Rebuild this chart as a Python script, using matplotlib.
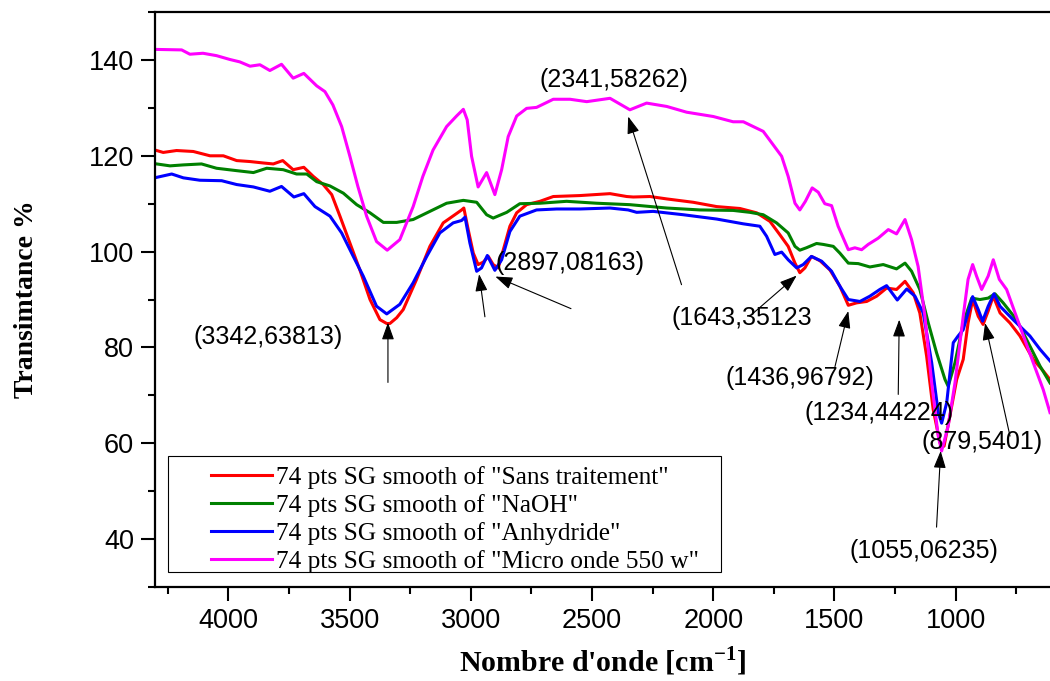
import matplotlib
matplotlib.use("Agg")
import matplotlib.pyplot as plt
from matplotlib.ticker import MultipleLocator
from matplotlib.patches import Rectangle
from matplotlib.transforms import IdentityTransform

plt.rcParams['font.family'] = ['Liberation Sans', 'DejaVu Sans']
plt.rcParams['mathtext.fontset'] = 'custom'
plt.rcParams['mathtext.rm'] = 'Liberation Serif'
plt.rcParams['mathtext.bf'] = 'Liberation Serif:bold'

# --- data (wavenumber cm-1, transmittance %) ---
sans_x = [4296, 4269, 4214, 4145, 4076, 4021, 3966, 3911, 3856, 3815, 3776, 3733, 3689, 3650,
          3609, 3574, 3540, 3499, 3458, 3416, 3375, 3347, 3334, 3306, 3279, 3224, 3169, 3114,
          3066, 3038, 3029, 3011, 2990, 2970, 2949, 2928, 2908, 2887, 2866, 2839, 2811, 2770,
          2715, 2660, 2550, 2426, 2357, 2330, 2261, 2192, 2083, 1986, 1890, 1821, 1766, 1725,
          1691, 1663, 1643, 1622, 1595, 1560, 1519, 1478, 1443, 1409, 1367, 1326, 1285, 1244,
          1209, 1175, 1148, 1120, 1093, 1065, 1048, 1024, 996, 969, 949, 930, 907, 887, 866,
          845, 817, 776, 735, 680, 639, 611]
sans_y = [121.1, 120.7, 121.1, 120.9, 120.0, 120.0, 119.0, 118.8, 118.5, 118.3, 119.0, 117.1,
          117.6, 115.7, 114.0, 111.9, 107.4, 101.8, 96.2, 90.0, 85.8, 85.0, 85.0, 86.2, 87.9,
          94.2, 101.1, 106.0, 107.7, 108.7, 109.1, 104.6, 99.7, 97.3, 97.8, 99.0, 97.3, 96.6,
          100.4, 105.3, 108.1, 109.8, 110.5, 111.5, 111.7, 112.1, 111.5, 111.4, 111.5, 111.0,
          110.3, 109.4, 109.0, 108.1, 106.3, 103.5, 101.1, 97.6, 95.6, 96.6, 99.0, 98.1, 96.2,
          92.8, 88.8, 89.3, 89.6, 90.7, 92.4, 92.1, 93.8, 91.4, 87.2, 78.2, 67.1, 60.1, 59.4,
          65.7, 73.3, 77.5, 85.1, 90.0, 86.5, 84.8, 87.6, 90.7, 87.2, 85.1, 82.4, 77.5, 75.1,
          73.3]

naoh_x = [4296, 4241, 4186, 4111, 4049, 3966, 3897, 3842, 3774, 3719, 3677, 3636, 3581, 3526,
          3471, 3416, 3361, 3306, 3238, 3169, 3100, 3031, 2976, 2935, 2908, 2852, 2798, 2715,
          2605, 2481, 2344, 2192, 2055, 1918, 1849, 1794, 1739, 1691, 1663, 1643, 1616, 1574,
          1546, 1505, 1478, 1443, 1402, 1354, 1299, 1244, 1209, 1182, 1148, 1113, 1079, 1044,
          1031, 1003, 969, 934, 900, 866, 838, 804, 749, 694, 652, 611]
naoh_y = [118.3, 117.9, 118.1, 118.3, 117.4, 116.9, 116.5, 117.4, 117.1, 116.2, 116.2, 114.6,
          113.7, 112.2, 109.8, 108.1, 106.1, 106.1, 106.7, 108.4, 110.1, 110.7, 110.3, 107.7,
          107.0, 108.2, 110.0, 110.1, 110.5, 110.1, 109.8, 109.1, 108.7, 108.6, 108.2, 107.7,
          106.0, 103.9, 101.1, 100.3, 100.8, 101.7, 101.5, 101.1, 99.7, 97.6, 97.5, 96.8, 97.3,
          96.4, 97.6, 95.9, 92.1, 85.1, 78.9, 73.3, 71.9, 76.8, 85.1, 90.3, 90.0, 90.3, 91.2,
          89.3, 85.8, 80.3, 76.1, 72.6]

anh_x = [4296, 4234, 4186, 4118, 4028, 3966, 3897, 3829, 3781, 3730, 3689, 3643, 3581, 3533,
         3485, 3444, 3389, 3347, 3293, 3238, 3182, 3128, 3073, 3038, 3024, 3004, 2976, 2956,
         2932, 2901, 2873, 2839, 2798, 2729, 2646, 2550, 2426, 2351, 2316, 2248, 2124, 1986,
         1876, 1808, 1780, 1746, 1718, 1691, 1656, 1629, 1595, 1553, 1512, 1478, 1443, 1395,
         1354, 1313, 1285, 1241, 1202, 1168, 1134, 1099, 1072, 1058, 1037, 1010, 990, 969, 949,
         930, 907, 889, 866, 842, 817, 763, 694, 652, 611]
anh_y = [115.5, 116.2, 115.4, 114.9, 114.8, 114.0, 113.5, 112.6, 113.6, 111.4, 112.1, 109.4,
         107.4, 103.9, 99.0, 94.9, 88.6, 87.0, 89.0, 93.5, 99.0, 103.9, 106.0, 106.5, 107.2,
         101.8, 95.9, 96.6, 99.2, 96.1, 98.3, 104.2, 107.4, 108.7, 108.9, 108.9, 109.1, 108.7,
         108.2, 108.4, 107.7, 106.8, 105.8, 105.3, 103.2, 99.4, 99.9, 98.3, 96.6, 97.3, 99.0,
         98.0, 95.9, 92.8, 90.0, 89.6, 90.7, 92.1, 92.9, 89.9, 92.2, 90.7, 87.2, 76.8, 66.4,
         64.2, 68.5, 81.0, 82.4, 83.7, 87.2, 90.6, 87.9, 85.5, 88.6, 91.2, 88.6, 85.8, 82.4,
         79.6, 77.2]

micro_x = [4296, 4193, 4159, 4105, 4049, 3994, 3953, 3911, 3870, 3829, 3781, 3733, 3689, 3636,
           3602, 3569, 3533, 3499, 3466, 3430, 3389, 3345, 3293, 3238, 3198, 3156, 3100, 3059,
           3031, 3015, 2997, 2970, 2935, 2901, 2873, 2846, 2811, 2770, 2729, 2660, 2591, 2522,
           2426, 2344, 2275, 2192, 2110, 2000, 1918, 1876, 1794, 1753, 1718, 1691, 1663, 1643,
           1620, 1592, 1567, 1540, 1512, 1485, 1443, 1416, 1388, 1361, 1320, 1278, 1244, 1209,
           1182, 1155, 1127, 1099, 1072, 1058, 1031, 1003, 969, 949, 930, 914, 893, 866, 845,
           820, 790, 735, 680, 639, 611]
micro_y = [142.2, 142.1, 141.2, 141.4, 140.9, 140.1, 139.6, 138.7, 139.0, 137.8, 139.1, 136.2,
           137.2, 134.6, 133.4, 130.6, 126.1, 119.9, 113.6, 107.4, 102.1, 100.3, 102.5, 109.4,
           115.7, 121.2, 126.1, 128.3, 129.7, 127.5, 119.9, 113.5, 116.5, 111.9, 117.1, 124.0,
           128.3, 129.9, 130.1, 131.8, 131.8, 131.3, 132.0, 129.6, 131.0, 130.3, 129.1, 128.2,
           127.1, 127.1, 125.1, 122.3, 119.9, 115.7, 110.1, 108.7, 110.5, 113.3, 112.4, 110.0,
           109.6, 105.3, 100.4, 100.8, 100.4, 101.5, 102.8, 104.6, 103.7, 106.7, 102.5, 96.9,
           86.5, 72.6, 61.5, 58.4, 63.6, 72.6, 86.5, 94.2, 97.3, 94.9, 92.1, 94.9, 98.3, 94.2,
           92.1, 84.4, 76.8, 71.2, 66.4]

labels = ['74 pts SG smooth of "Sans traitement"', '74 pts SG smooth of "NaOH"',
          '74 pts SG smooth of "Anhydride"', '74 pts SG smooth of "Micro onde 550 w"']
colors = ['#ff0000', '#008000', '#0000ff', '#ff00ff']

# peak annotations: text, text position, arrow tail, arrow tip
notes = [
    ('(3342,63813)', (3837, 82.1), (3342, 72.7), (3342, 85.2)),
    ('', None, (2942, 86.4), (2966, 95.3)),
    ('(2897,08163)', (2591, 97.7), (2587, 88.1), (2899, 94.8)),
    ('(2341,58262)', (2410, 135.8), (2131, 93.1), (2351, 128.2)),
    ('(1643,35123', (1882, 86.2), (1850, 86.5), (1656, 95.0)),
    ('(1436,96792)', (1643, 73.7), (1498, 76.0), (1443, 87.6)),
    ('(1234,44224)', (1317, 66.4), (1237, 70.2), (1233, 85.8)),
    ('(879,5401)', (890, 60.2), (776, 61.5), (879, 85.1)),
    ('(1055,06235)', (1131, 37.6), (1079, 42.5), (1062, 58.4)),
]

fig = plt.figure(figsize=(10.5, 6.81), dpi=100)
ax = fig.add_axes([0.1476, 0.138, 0.8524, 0.8443])

series = [(sans_x, sans_y), (naoh_x, naoh_y), (anh_x, anh_y), (micro_x, micro_y)]
for (xs, ys), lab, c in zip(series, labels, colors):
    ax.plot(xs, ys, color=c, lw=2.2, label=lab)

for txt, tpos, tail, tip in notes:
    ax.annotate('', xy=tip, xytext=tail,
                arrowprops=dict(arrowstyle='-|>,head_length=0.7,head_width=0.25',
                                color='black', lw=0.8, mutation_scale=15,
                                shrinkA=0, shrinkB=0))
    if txt:
        ax.text(tpos[0], tpos[1], txt, fontsize=18, ha='center', va='center')

ax.set_xlim(4303, 611)
ax.set_ylim(30, 150)
ax.xaxis.set_major_locator(MultipleLocator(500))
ax.xaxis.set_minor_locator(MultipleLocator(250))
ax.yaxis.set_major_locator(MultipleLocator(20))
ax.yaxis.set_minor_locator(MultipleLocator(10))
ax.tick_params(which='major', direction='out', length=10, width=1.5, labelsize=19.5, pad=5)
ax.tick_params(which='minor', direction='out', length=5, width=1.5)
ax.spines['right'].set_visible(False)
for s in ['left', 'bottom', 'top']:
    ax.spines[s].set_linewidth(1.6)

ax.set_xlabel(r"Nombre d'onde [cm$^{\mathbf{-1}}$]", fontsize=21.5, fontweight='bold',
              family='Liberation Serif')
ax.set_ylabel('Transimtance %', fontsize=20, fontweight='bold', family='Liberation Serif')
ax.xaxis.set_label_coords(0.5, -0.1)
ax.yaxis.set_label_coords(-0.13, 0.5)

leg = ax.legend(loc='lower left', bbox_to_anchor=(0.0626, 0.024), borderaxespad=0,
                prop={'family': 'Liberation Serif', 'size': 18.3}, frameon=False,
                handlelength=2.4, handletextpad=0.16, labelspacing=0.2, borderpad=0)

# frame around the legend, wider on the left as in the original
fig.canvas.draw()
bb = leg.get_window_extent()
pad_l, pad_r, pad_t, pad_b = 43, 22, 10, -1
fig.patches.append(Rectangle((bb.x0 - pad_l, bb.y0 - pad_b), bb.width + pad_l + pad_r,
                             bb.height + pad_t + pad_b, transform=IdentityTransform(),
                             fill=False, edgecolor='black', lw=0.8, figure=fig))

fig.savefig('out.png', dpi=100)
